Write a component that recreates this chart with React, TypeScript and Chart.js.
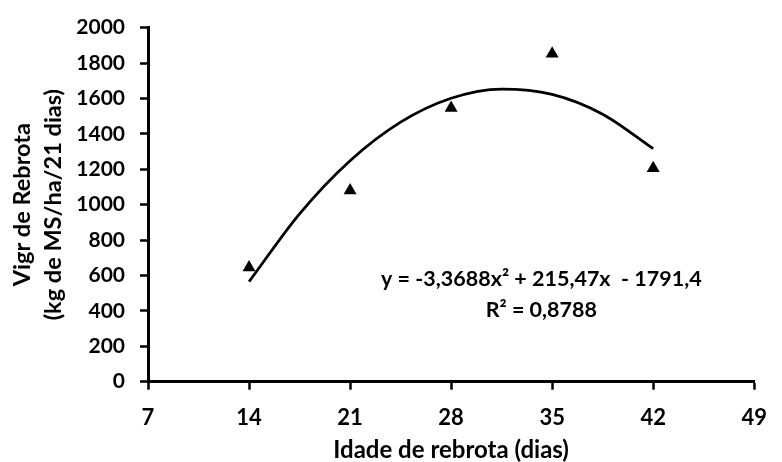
import React, { useEffect, useRef } from "react";
import { Chart, registerables } from "chart.js";

Chart.register(...registerables);

// Observed points (triangles)
const ageDays = [14, 21, 28, 35, 42];
const regrowthVigor = [645, 1080, 1546, 1852, 1205];

// Trend curve
const trendX = [14, 17.5, 21, 24.5, 28, 31.5, 35, 38.5, 42];
const trendY = [565, 948, 1248, 1466, 1601, 1653, 1623, 1511, 1316];

const xTitle = "Idade de rebrota (dias)";
const yTitle = ["Vigr de Rebrota", "(kg de MS/ha/21 dias)"];
const equationText = "y = -3,3688x\u00B2 + 215,47x  - 1791,4";
const r2Text = "R\u00B2 = 0,8788";

const FONT = "Lato";

const equationPlugin = {
  id: "equationLabel",
  afterDraw(chart: any) {
    const ctx = chart.ctx;
    const xs = chart.scales.x;
    const ys = chart.scales.y;
    ctx.save();
    ctx.fillStyle = "#000";
    ctx.font = `bold 21.5px ${FONT}`;
    ctx.textAlign = "center";
    ctx.textBaseline = "middle";
    const cx = xs.getPixelForValue(34.25);
    ctx.fillText(equationText, cx, ys.getPixelForValue(578));
    ctx.fillText(r2Text, cx, ys.getPixelForValue(405));
    ctx.restore();
  },
};

export default function App() {
  const ref = useRef<HTMLCanvasElement>(null);
  useEffect(() => {
    document.body.style.margin = "0";
    if (!ref.current) return;
    const chart = new Chart(ref.current, {
      type: "scatter",
      data: {
        datasets: [
          {
            label: "trend",
            data: trendX.map((x, i) => ({ x, y: trendY[i] })),
            showLine: true,
            borderColor: "#000",
            borderWidth: 2.8,
            pointRadius: 0,
            cubicInterpolationMode: "monotone",
            fill: false,
          },
          {
            label: "obs",
            data: ageDays.map((x, i) => ({ x, y: regrowthVigor[i] })),
            pointStyle: "triangle",
            pointRadius: 7.5,
            backgroundColor: "#000",
            borderColor: "#000",
            borderWidth: 0,
            showLine: false,
          },
        ],
      },
      options: {
        responsive: false,
        animation: false,
        layout: { padding: { left: 0, top: 25, right: 15, bottom: 0 } },
        plugins: {
          legend: { display: false },
          tooltip: { enabled: false },
        },
        scales: {
          x: {
            type: "linear",
            min: 7,
            max: 49,
            ticks: {
              stepSize: 7,
              color: "#000",
              font: { family: FONT, size: 22, weight: "bold" },
              padding: 15,
              maxRotation: 0,
              callback: (v: any) => String(v),
            },
            grid: {
              drawOnChartArea: false,
              drawTicks: true,
              tickLength: 8,
              tickColor: "#000",
              tickWidth: 2.5,
            },
            border: { color: "#000", width: 3 },
            title: {
              display: true,
              text: xTitle,
              color: "#000",
              font: { family: FONT, size: 24, weight: "bold", lineHeight: 1.0 },
              padding: { top: 0, bottom: 0 },
            },
            afterFit(scale: any) {
              scale.height = 80.3;
            },
          },
          y: {
            type: "linear",
            min: 0,
            max: 2000,
            ticks: {
              stepSize: 200,
              color: "#000",
              font: { family: FONT, size: 21, weight: "bold" },
              padding: 15,
              callback: (v: any) => String(v),
            },
            grid: {
              drawOnChartArea: false,
              drawTicks: true,
              tickLength: 8,
              tickColor: "#000",
              tickWidth: 2.5,
            },
            border: { color: "#000", width: 3 },
            title: {
              display: true,
              text: yTitle,
              color: "#000",
              font: { family: FONT, size: 23.5, weight: "bold", lineHeight: 1.32 },
              padding: { top: 6.5, bottom: 0 },
            },
            afterFit(scale: any) {
              scale.width = 148;
            },
          },
        },
      },
      plugins: [equationPlugin],
    });
    return () => chart.destroy();
  }, []);
  return <canvas ref={ref} width={782} height={462} />;
}
